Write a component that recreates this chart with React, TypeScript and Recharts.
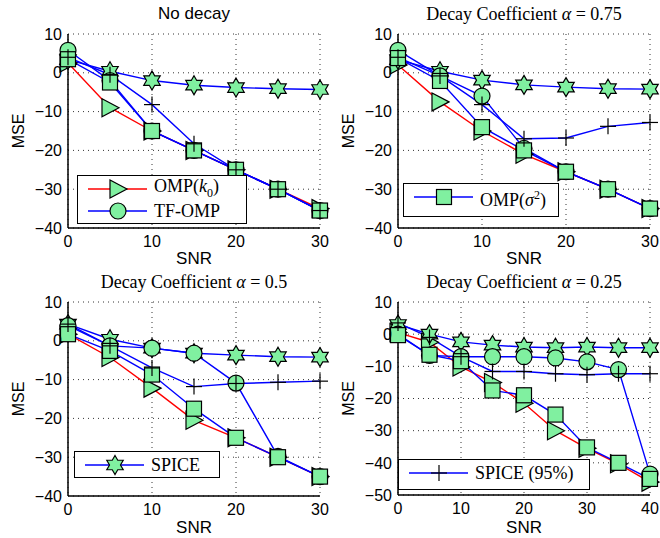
import React from 'react';
import { LineChart, Line, XAxis, YAxis, CartesianGrid, Legend } from 'recharts';

// x values (SNR)
const snr30 = [0, 5, 10, 15, 20, 25, 30];
const snr40 = [0, 5, 10, 15, 20, 25, 30, 35, 40];

// No decay
const ndOmpK0 = [2.5, -9, -15, -20, -25, -30, -35];
const ndTfOmp = [5.8, -2, -15, -20, -25, -30, -35.5];
const ndOmpSig = [3.5, -2.5, -15, -20, -25, -30, -35.5];
const ndSpice = [3.4, 0.4, -2, -3.2, -3.8, -4.1, -4.3];
const ndSpice95 = [4, -0.5, -8.2, -18.3, -25, -30, -35.5];

// alpha = 0.75
const a75OmpK0 = [2, -7.5, -15, -21, -25.5, -30, -35];
const a75TfOmp = [5.8, -0.8, -6, -19.5, -25.5, -30, -35];
const a75OmpSig = [3.8, -2.1, -14, -20, -25.5, -30, -35];
const a75Spice = [3.4, 0.4, -1.9, -3.1, -3.7, -4.1, -4.2];
const a75Spice95 = [4, -0.8, -8.2, -17, -16.8, -13.8, -12.8];

// alpha = 0.5
const a50OmpK0 = [1.7, -4.3, -12.2, -20.5, -25, -30, -35];
const a50TfOmp = [3.9, -1.3, -1.9, -3.2, -10.9, -29.8, -35];
const a50OmpSig = [1.7, -2.6, -8.7, -17.5, -25, -30, -35];
const a50Spice = [4.3, 0.4, -1.9, -3.2, -3.7, -4.1, -4.2];
const a50Spice95 = [4.3, -1.3, -7, -11.8, -11, -10.7, -10.4];

// alpha = 0.25
const a25OmpK0 = [0.5, -2.5, -10.2, -15, -21.5, -30, -35.5, -40.3, -46];
const a25TfOmp = [0, -6.6, -7, -7, -7, -7.4, -8.6, -11, -43.5];
const a25OmpSig = [-0.3, -6.4, -8.4, -17.5, -19, -25, -35.2, -40, -45];
const a25Spice = [3, 0, -2.4, -3.4, -4, -4.2, -4, -4.2, -4.2];
const a25Spice95 = [3.5, -1, -7, -11.6, -11.6, -12.3, -12.6, -12.3, -12.3];

const ticks30 = [0, 10, 20, 30];
const ticks40 = [0, 10, 20, 30, 40];
const yTicksA = [-40, -30, -20, -10, 0, 10];
const yTicksB = [-50, -40, -30, -20, -10, 0, 10];

const FILL = '#80F0A0';
const BLUE = '#0000FF';
const RED = '#FF0000';
const SANS = '"Liberation Sans", Arial, sans-serif';
const SERIF = '"Liberation Serif", "Times New Roman", serif';

type Kind = 'tri' | 'circ' | 'sq' | 'hex' | 'plus';

const Marker = ({ kind, cx, cy }: { kind: Kind; cx: number; cy: number }) => {
  const sw = 1.2;
  if (kind === 'tri') {
    return <polygon points={`${cx + 9},${cy} ${cx - 8},${cy - 9} ${cx - 8},${cy + 9}`} fill={FILL} stroke="#000" strokeWidth={sw} />;
  }
  if (kind === 'circ') {
    return <circle cx={cx} cy={cy} r={8} fill={FILL} stroke="#000" strokeWidth={sw} />;
  }
  if (kind === 'sq') {
    return <rect x={cx - 7.5} y={cy - 7.5} width={15} height={15} fill={FILL} stroke="#000" strokeWidth={sw} />;
  }
  if (kind === 'hex') {
    const R = 9.5;
    const r = R / Math.sqrt(3);
    const pts: string[] = [];
    for (let k = 0; k < 12; k++) {
      const ang = (-90 + k * 30) * Math.PI / 180;
      const rad = k % 2 === 0 ? R : r;
      pts.push(`${cx + rad * Math.cos(ang)},${cy + rad * Math.sin(ang)}`);
    }
    return <polygon points={pts.join(' ')} fill={FILL} stroke="#000" strokeWidth={sw} />;
  }
  return (
    <g stroke="#000" strokeWidth={1.2}>
      <line x1={cx - 8} y1={cy} x2={cx + 8} y2={cy} />
      <line x1={cx} y1={cy - 8} x2={cx} y2={cy + 8} />
    </g>
  );
};

const dotOf = (kind: Kind) => (p: any) => {
  if (p.cx == null || p.cy == null) return <g key={p.index} />;
  return <Marker key={p.index} kind={kind} cx={p.cx} cy={p.cy} />;
};

const seriesDefs: { key: string; kind: Kind; color: string }[] = [
  { key: 'ompK0', kind: 'tri', color: RED },
  { key: 'tfOmp', kind: 'circ', color: BLUE },
  { key: 'ompSig', kind: 'sq', color: BLUE },
  { key: 'spice', kind: 'hex', color: BLUE },
  { key: 'spice95', kind: 'plus', color: BLUE },
];
// drawing order (bottom to top)
const drawOrder = ['ompK0', 'spice', 'tfOmp', 'ompSig', 'spice95'];

const buildRows = (x: number[], a: number[], b: number[], c: number[], d: number[], e: number[]) =>
  x.map((s, i) => ({ snr: s, ompK0: a[i], tfOmp: b[i], ompSig: c[i], spice: d[i], spice95: e[i] }));

const legendLabels: Record<string, React.ReactNode> = {
  ompK0: <span>OMP(<i>k</i><sub style={{ fontSize: 12 }}>0</sub>)</span>,
  tfOmp: <span>TF-OMP</span>,
  ompSig: <span>OMP(<i>σ</i><sup style={{ fontSize: 12 }}>2</sup>)</span>,
  spice: <span>SPICE</span>,
  spice95: <span>SPICE (95%)</span>,
};

const LegendBox = ({ keys }: { keys: string[] }) => (
  <div style={{ border: '1.5px solid #000', background: '#fff', padding: '2px 6px 2px 10px', boxSizing: 'border-box', height: '100%' }}>
    {keys.map(k => {
      const def = seriesDefs.find(s => s.key === k)!;
      return (
        <div key={k} style={{ display: 'flex', alignItems: 'center', height: 22 }}>
          <svg width={60} height={22} style={{ overflow: 'visible' }}>
            <line x1={0} y1={11} x2={59} y2={11} stroke={def.color} strokeWidth={1.5} />
            <Marker kind={def.kind} cx={30} cy={11} />
          </svg>
          <span style={{ fontFamily: SERIF, fontSize: 18, marginLeft: 6, lineHeight: '22px' }}>{legendLabels[k]}</span>
        </div>
      );
    })}
  </div>
);

const minus = (v: number) => String(v).replace('-', '\u2212');

interface PanelProps {
  left: number;
  top: number;
  rows: any[];
  xTicks: number[];
  yTicks: number[];
  title: React.ReactNode;
  titleFont: string;
  legendKeys: string[];
  legendBox: { left: number; top: number; width: number; height: number };
  marginTop: number;
  marginBottom: number;
}

const Panel = ({ left, top, rows, xTicks, yTicks, title, titleFont, legendKeys, legendBox, marginTop, marginBottom }: PanelProps) => {
  const xDom = [xTicks[0], xTicks[xTicks.length - 1]];
  const yDom = [yTicks[0], yTicks[yTicks.length - 1]];
  return (
    <div style={{ position: 'absolute', left, top, width: 330, height: 269 }}>
      <LineChart width={330} height={269} data={rows} margin={{ top: marginTop, right: 10, bottom: 0, left: 20 }}>
        <CartesianGrid stroke="#000" strokeDasharray="1 4" strokeWidth={0.8} />
        <XAxis
          dataKey="snr" type="number" domain={xDom} ticks={xTicks} height={marginBottom}
          axisLine={{ stroke: '#000', strokeWidth: 1.5 }} tickLine={false} tickSize={6} tickMargin={2}
          tick={{ fill: '#000', fontSize: 16, fontFamily: SANS }}
          label={{ value: 'SNR', position: 'insideBottom', offset: 5, fill: '#000', fontSize: 17, fontFamily: SANS }}
        />
        <XAxis xAxisId="top" orientation="top" dataKey="snr" type="number" domain={xDom} height={0}
          axisLine={{ stroke: '#000', strokeWidth: 1.5 }} tick={false} tickLine={false} />
        <YAxis
          type="number" domain={yDom} ticks={yTicks} width={48}
          axisLine={{ stroke: '#000', strokeWidth: 1.5 }} tickLine={false} tickSize={4} tickMargin={2}
          tickFormatter={minus}
          tick={{ fill: '#000', fontSize: 16, fontFamily: SANS }}
          label={{ value: 'MSE', angle: -90, position: 'insideLeft', offset: -2, fill: '#000', fontSize: 16, fontFamily: SANS, style: { textAnchor: 'middle' } }}
        />
        <YAxis yAxisId="right" orientation="right" type="number" domain={yDom} width={0}
          axisLine={{ stroke: '#000', strokeWidth: 1.5 }} tick={false} tickLine={false} />
        {drawOrder.map(k => {
          const s = seriesDefs.find(d => d.key === k)!;
          return (
            <Line key={s.key} type="linear" dataKey={s.key} stroke={s.color} strokeWidth={1.4}
              dot={dotOf(s.kind)} activeDot={false} isAnimationActive={false} legendType="none" />
          );
        })}
        <Legend layout="vertical" verticalAlign="middle" align="center"
          wrapperStyle={{ left: legendBox.left, top: legendBox.top, width: legendBox.width, height: legendBox.height }}
          content={() => <LegendBox keys={legendKeys} />} />
      </LineChart>
      <div style={{ position: 'absolute', left: 68, width: 252, top: marginTop - 30, textAlign: 'center', fontFamily: titleFont, fontSize: titleFont === SANS ? 17 : 18, lineHeight: '20px', color: '#000', whiteSpace: 'nowrap' }}>
        {title}
      </div>
    </div>
  );
};

const App = () => (
  <div style={{ position: 'absolute', left: 0, top: 0, width: 660, height: 538, background: '#fff' }}>
    <Panel left={0} top={0} rows={buildRows(snr30, ndOmpK0, ndTfOmp, ndOmpSig, ndSpice, ndSpice95)}
      xTicks={ticks30} yTicks={yTicksA} title="No decay" titleFont={SANS}
      legendKeys={['ompK0', 'tfOmp']} legendBox={{ left: 77, top: 175, width: 170, height: 49 }}
      marginTop={34} marginBottom={41} />
    <Panel left={330} top={0} rows={buildRows(snr30, a75OmpK0, a75TfOmp, a75OmpSig, a75Spice, a75Spice95)}
      xTicks={ticks30} yTicks={yTicksA} title={<span>Decay Coefficient <i>α</i> = 0.75</span>} titleFont={SERIF}
      legendKeys={['ompSig']} legendBox={{ left: 73, top: 183, width: 156, height: 34 }}
      marginTop={34} marginBottom={41} />
    <Panel left={0} top={269} rows={buildRows(snr30, a50OmpK0, a50TfOmp, a50OmpSig, a50Spice, a50Spice95)}
      xTicks={ticks30} yTicks={yTicksA} title={<span>Decay Coefficient <i>α</i> = 0.5</span>} titleFont={SERIF}
      legendKeys={['spice']} legendBox={{ left: 74, top: 182, width: 146, height: 27 }}
      marginTop={33} marginBottom={42} />
    <Panel left={330} top={269} rows={buildRows(snr40, a25OmpK0, a25TfOmp, a25OmpSig, a25Spice, a25Spice95)}
      xTicks={ticks40} yTicks={yTicksB} title={<span>Decay Coefficient <i>α</i> = 0.25</span>} titleFont={SERIF}
      legendKeys={['spice95']} legendBox={{ left: 68, top: 190, width: 192, height: 31 }}
      marginTop={33} marginBottom={43} />
  </div>
);

export default App;
